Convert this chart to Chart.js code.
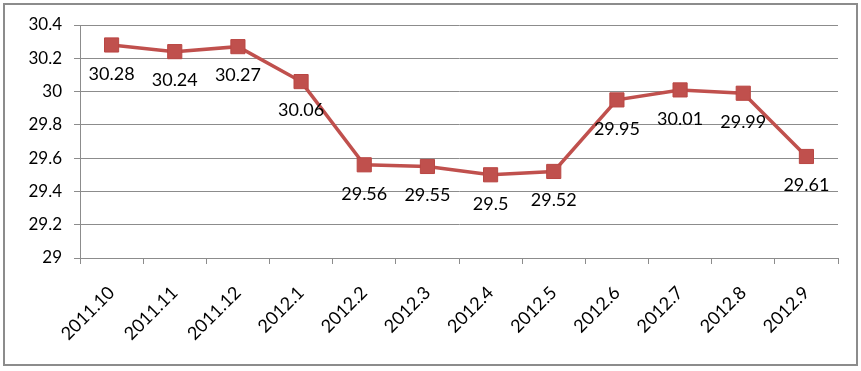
<!DOCTYPE html>
<html><head><meta charset="utf-8">
<script src="https://cdn.jsdelivr.net/npm/chart.js@4.4.0/dist/chart.umd.min.js"></script>
<style>html,body{margin:0;padding:0;background:#fff;}#wrap{width:861px;height:371px;position:relative;}</style>
</head><body><div id="wrap"><canvas id="c" width="861" height="371"></canvas></div>
<script>
const categories = ['2011.10','2011.11','2011.12','2012.1','2012.2','2012.3','2012.4','2012.5','2012.6','2012.7','2012.8','2012.9'];
const values = [30.28, 30.24, 30.27, 30.06, 29.56, 29.55, 29.5, 29.52, 29.95, 30.01, 29.99, 29.61];
const labelTexts = ['30.28','30.24','30.27','30.06','29.56','29.55','29.5','29.52','29.95','30.01','29.99','29.61'];
const yMin = 29, yMax = 30.4, yStep = 0.2;

const FONT = 'Lato, "Open Sans", sans-serif';

const borderPlugin = {
  id: 'outerBorder',
  beforeDraw(chart) {
    const ctx = chart.ctx;
    ctx.save();
    ctx.fillStyle = '#fff';
    ctx.fillRect(0, 0, chart.width, chart.height);
    ctx.strokeStyle = '#8c8c8c';
    ctx.lineWidth = 2;
    ctx.strokeRect(4, 4, 853, 361);
    ctx.restore();
  }
};

const labelPlugin = {
  id: 'pointLabels',
  afterDatasetsDraw(chart) {
    const ctx = chart.ctx;
    const meta = chart.getDatasetMeta(0);
    ctx.save();
    ctx.font = '18px ' + FONT;
    ctx.fillStyle = '#000';
    ctx.textAlign = 'center';
    ctx.textBaseline = 'middle';
    meta.data.forEach((pt, i) => {
      ctx.fillText(labelTexts[i], pt.x, pt.y + 29);
    });
    ctx.restore();
  }
};

new Chart(document.getElementById('c'), {
  type: 'line',
  data: {
    labels: categories,
    datasets: [{
      data: values,
      borderColor: '#C0504D',
      backgroundColor: '#C0504D',
      borderWidth: 3.5,
      pointStyle: 'rect',
      pointRadius: 10,
      pointHoverRadius: 10,
      pointBorderWidth: 1,
      pointBorderColor: '#B94643',
      tension: 0
    }]
  },
  options: {
    responsive: false,
    animation: false,
    events: [],
    layout: { padding: { left: 0, right: 23, top: 25, bottom: 0 } },
    plugins: { legend: { display: false }, tooltip: { enabled: false } },
    scales: {
      x: {
        offset: true,
        grid: { offset: true, drawOnChartArea: false, tickLength: 6, color: '#8c8c8c' },
        border: { display: true, color: '#8c8c8c', width: 1 },
        ticks: { minRotation: 45, maxRotation: 45, padding: 18, color: '#000', font: { family: FONT, size: 18 } },
        afterFit(scale) { scale.height = 113; }
      },
      y: {
        min: yMin, max: yMax,
        grid: { color: '#8c8c8c', tickLength: 6 },
        border: { display: true, color: '#8c8c8c', width: 1 },
        ticks: { stepSize: yStep, padding: 12, color: '#000', font: { family: FONT, size: 17 },
          callback: v => String(Math.round(v * 10) / 10) },
        afterFit(scale) { scale.width = 80; }
      }
    }
  },
  plugins: [borderPlugin, labelPlugin]
});
</script></body></html>
